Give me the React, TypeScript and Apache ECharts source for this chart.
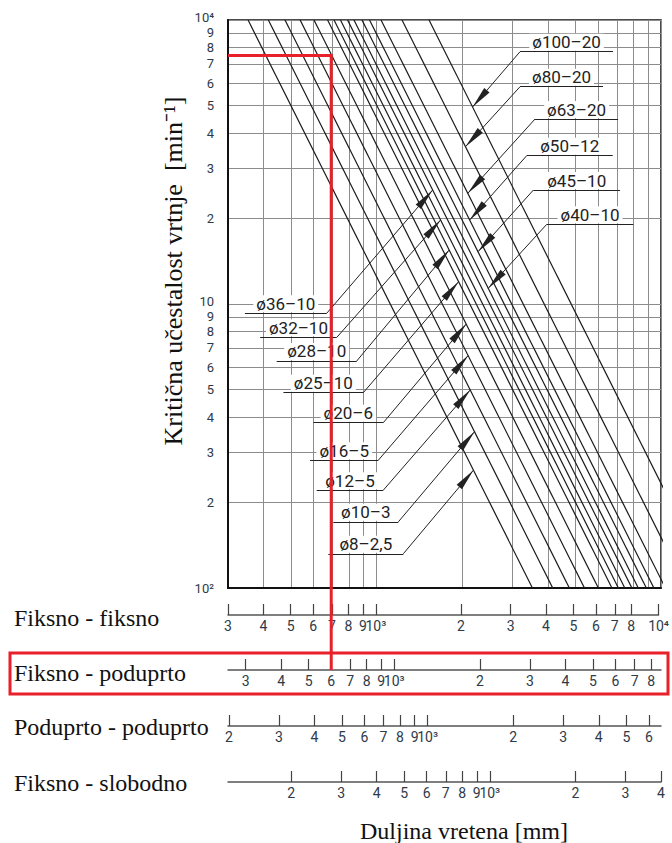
import React, { useEffect, useRef } from 'react';
import * as echarts from 'echarts';

// ---- data ----
const speedTicks = [100, 200, 300, 400, 500, 600, 700, 800, 900, 1000, 2000, 3000, 4000, 5000, 6000, 7000, 8000, 9000, 10000];
const speedTickLabels = ['10²', '2', '3', '4', '5', '6', '7', '8', '9', '10', '2', '3', '4', '5', '6', '7', '8', '9', '10⁴'];

const supportCases = ['Fiksno - fiksno', 'Fiksno - poduprto', 'Poduprto - poduprto', 'Fiksno - slobodno'];
const lengthFactor = [1, 0.867, 0.662, 0.4];

const ffTicks = [300, 400, 500, 600, 700, 800, 900, 1000, 2000, 3000, 4000, 5000, 6000, 7000, 8000, 9000, 10000];
const ffLabels = ['3', '4', '5', '6', '7', '8', '9', '10³', '2', '3', '4', '5', '6', '7', '8', '9', '10⁴'];
const fpTicks = [300, 400, 500, 600, 700, 800, 900, 1000, 2000, 3000, 4000, 5000, 6000, 7000, 8000];
const fpLabels = ['3', '4', '5', '6', '7', '8', '9', '10³', '2', '3', '4', '5', '6', '7', '8'];
const ppTicks = [200, 300, 400, 500, 600, 700, 800, 900, 1000, 2000, 3000, 4000, 5000, 6000];
const ppLabels = ['2', '3', '4', '5', '6', '7', '8', '9', '10³', '2', '3', '4', '5', '6'];
const fsTicks = [200, 300, 400, 500, 600, 700, 800, 900, 1000, 2000, 3000, 4000];
const fsLabels = ['2', '3', '4', '5', '6', '7', '8', '9', '10³', '2', '3', '4'];
const scaleTicks = [ffTicks, fpTicks, ppTicks, fsTicks];
const scaleLabels = [ffLabels, fpLabels, ppLabels, fsLabels];

// spindle sizes, from the lowest line to the highest
const spindleLabels = ['ø8–2,5', 'ø10–3', 'ø12–5', 'ø16–5', 'ø20–6', 'ø25–10', 'ø28–10', 'ø32–10', 'ø36–10', 'ø40–10', 'ø45–10', 'ø50–12', 'ø63–20', 'ø80–20', 'ø100–20'];
// length [mm] (fiksno - fiksno) at which the critical speed is 10^4 min^-1
const lengthAtTopSpeed = [353, 416, 476, 538, 602, 672, 708, 746, 790, 832, 888, 944, 1036, 1228, 1528];
// speed [min^-1] where each arrow meets its line
const arrowSpeed = [260, 355, 498, 658, 850, 1198, 1549, 1976, 2520, 1136, 1528, 1976, 2453, 3580, 4940];
// label underline: speed and length range [mm]
const labelSpeed = [132, 171, 221, 282, 382, 487, 630, 763, 927, 1908, 2520, 3329, 4481, 5822, 7735];
const labelFrom = [676, 704, 615, 583, 599, 470, 445, 389, 344, 3964, 3558, 3370, 3606, 3193, 3193];
const labelTo = [1241, 1192, 1055, 1014, 1055, 897, 851, 724, 667, 7995, 7177, 6764, 7063, 6253, 6783];
const labelSide = ['left', 'left', 'left', 'left', 'left', 'left', 'left', 'left', 'left', 'right', 'right', 'right', 'right', 'right', 'right'];

// worked example (red)
const exampleSpeed = 7500;
const exampleLength = 600; // on the Fiksno - poduprto scale

// ---- layout ----
const GRID_LEFT = 228;
const GRID_WIDTH = 433;
const MAIN_TOP = 20;
const MAIN_HEIGHT = 568;
const scaleAxisY = [615, 670, 726, 782];
const rowTextY = [618, 673, 727, 783];
const NUM_FONT = 'Roboto, "DejaVu Sans", sans-serif';
const SERIF = '"Liberation Serif", "Times New Roman", serif';
const NUM_COLOR = '#2e3a48';
const RED = '#e8202a';
const EPS = 1e-7;
const lg = Math.log10;
// decade labels drawn a little higher, clear of the crowded label below them
const raisedSpeedTicks = [1000, 10000];

function tickIndex(v: number, ticks: number[]) {
  for (let i = 0; i < ticks.length; i++) {
    if (Math.abs(lg(ticks[i]) - v) < 1e-5) return i;
  }
  return -1;
}

function labelFor(v: number, ticks: number[], labels: string[]) {
  const i = tickIndex(v, ticks);
  return i < 0 ? '' : labels[i];
}

function staticGraphics() {
  const g: any[] = [];
  supportCases.forEach((name, i) => {
    g.push({
      id: 'row' + i, type: 'text', x: 14, y: rowTextY[i], z: 50,
      style: { text: name, font: `24px ${SERIF}`, fill: '#111', verticalAlign: 'middle', align: 'left' },
    });
  });
  g.push({
    id: 'yname', type: 'text', x: 173, y: 271, rotation: Math.PI / 2, z: 50,
    style: { text: 'Kritična učestalost vrtnje  [min⁻¹]', font: `26px ${SERIF}`, fill: '#111', align: 'center', verticalAlign: 'middle' },
  });
  g.push({
    id: 'xname', type: 'text', x: 464, y: 831, z: 50,
    style: { text: 'Duljina vretena [mm]', font: `24px ${SERIF}`, fill: '#111', align: 'center', verticalAlign: 'middle' },
  });
  g.push({
    id: 'redbox', type: 'rect', z: 100,
    shape: { x: 10, y: 653, width: 658, height: 41 },
    style: { fill: 'none', stroke: RED, lineWidth: 3 },
  });
  return g;
}

function buildOption() {
  const mainX = {
    type: 'value', gridIndex: 0, position: 'bottom',
    min: lg(300) - EPS, max: lg(10000) + EPS,
    axisLine: { show: true, onZero: false, lineStyle: { color: '#111', width: 2 } },
    axisTick: { show: false, customValues: ffTicks.map(lg) },
    axisLabel: { show: false },
    splitLine: { show: true, lineStyle: { color: '#8c8c8c', width: 1 } },
  };
  const yLabelStyle = {
    margin: 14, showMinLabel: true, showMaxLabel: true,
    formatter: (v: number) => labelFor(v, speedTicks, speedTickLabels),
    color: NUM_COLOR, fontSize: 13, lineHeight: 11, fontFamily: NUM_FONT,
  };
  const mainY = {
    type: 'value', gridIndex: 0, position: 'left',
    min: 2 - EPS, max: 4 + EPS,
    axisLine: { show: true, onZero: false, lineStyle: { color: '#111', width: 2 } },
    axisTick: { show: false, customValues: speedTicks.map(lg) },
    axisLabel: {
      show: true, ...yLabelStyle,
      customValues: speedTicks.filter((t) => !raisedSpeedTicks.includes(t)).map(lg),
    },
    splitLine: { show: true, lineStyle: { color: '#8c8c8c', width: 1 } },
  };
  // same scale, carries only the decade labels (text centre ~3 px above the grid line)
  const decadeY = {
    type: 'value', gridIndex: 0, position: 'left', offset: 0,
    min: 2 - EPS, max: 4 + EPS,
    axisLine: { show: false }, axisTick: { show: false }, splitLine: { show: false },
    axisLabel: {
      show: true, ...yLabelStyle, lineHeight: 6, verticalAlign: 'bottom',
      customValues: raisedSpeedTicks.map(lg),
    },
  };
  const scaleX = lengthFactor.map((f, k) => ({
    type: 'value', gridIndex: k + 1, position: 'bottom',
    min: lg(300 * f) - EPS, max: lg(10000 * f) + EPS,
    axisLine: { show: true, onZero: false, lineStyle: { color: '#555', width: 1.5 } },
    axisTick: { show: true, inside: true, length: 11, customValues: scaleTicks[k].map(lg), lineStyle: { color: '#444', width: 1.2 } },
    axisLabel: {
      show: true, customValues: scaleTicks[k].map(lg), margin: 4,
      showMinLabel: true, showMaxLabel: true,
      formatter: (v: number) => labelFor(v, scaleTicks[k], scaleLabels[k]),
      color: NUM_COLOR, fontSize: 14, fontFamily: NUM_FONT,
    },
    splitLine: { show: false },
  }));
  const scaleY = lengthFactor.map((_, k) => ({
    type: 'value', gridIndex: k + 1, min: 0, max: 1, show: false,
  }));

  const series = spindleLabels.map((name, i) => {
    const L0 = lengthAtTopSpeed[i];
    const tipL = L0 * Math.sqrt(10000 / arrowSpeed[i]);
    const startL = labelSide[i] === 'left' ? labelTo[i] : labelFrom[i];
    return {
      type: 'line', name, xAxisIndex: 0, yAxisIndex: 0,
      data: [[lg(L0), 4], [lg(L0 * 10), 2]],
      symbol: 'none', showSymbol: false, clip: true, silent: true, z: 3,
      lineStyle: { color: '#1a1a1a', width: 1.2 },
      markLine: {
        silent: true, animation: false,
        symbol: ['none', 'triangle'],
        symbolSize: [7, 22],
        lineStyle: { type: 'solid', color: '#222', width: 1 },
        itemStyle: { color: '#111' },
        label: { show: false },
        emphasis: { disabled: true },
        data: [
          [
            { coord: [lg(startL), lg(labelSpeed[i])], symbol: 'none' },
            {
              coord: [lg(tipL), lg(arrowSpeed[i])],
              symbol: 'triangle', symbolSize: [7, 22], symbolOffset: [0, 11],
              itemStyle: { color: '#111' },
            },
          ],
          [
            {
              coord: [lg(labelFrom[i]), lg(labelSpeed[i])], symbol: 'none',
              label: {
                show: true, position: 'insideMiddleTop', distance: 1, formatter: name,
                color: '#222', fontSize: 17, fontFamily: NUM_FONT,
                backgroundColor: '#fff', padding: [0, 3],
              },
            },
            { coord: [lg(labelTo[i]), lg(labelSpeed[i])], symbol: 'none' },
          ],
        ],
      },
    };
  });

  return {
    animation: false,
    backgroundColor: '#fff',
    grid: [
      { left: GRID_LEFT, top: MAIN_TOP, width: GRID_WIDTH, height: MAIN_HEIGHT, show: true, borderColor: '#111', borderWidth: 1.5, backgroundColor: 'transparent' },
      ...scaleAxisY.map((y) => ({ left: GRID_LEFT, width: GRID_WIDTH, top: y - 10, height: 10, show: false })),
    ],
    xAxis: [mainX, ...scaleX],
    yAxis: [mainY, ...scaleY, decadeY],
    series,
    graphic: staticGraphics(),
  };
}

export default function App() {
  const ref = useRef<HTMLDivElement>(null);
  useEffect(() => {
    const chart = echarts.init(ref.current!, null, { renderer: 'svg' });
    chart.setOption(buildOption() as any);
    const xL = chart.convertToPixel({ xAxisIndex: 0 } as any, lg(300)) as any as number;
    const xR = chart.convertToPixel({ xAxisIndex: 2 } as any, lg(exampleLength)) as any as number;
    const yT = chart.convertToPixel({ yAxisIndex: 0 } as any, lg(exampleSpeed)) as any as number;
    const yB = chart.convertToPixel({ yAxisIndex: 2 } as any, 0) as any as number;
    chart.setOption({
      graphic: [
        ...staticGraphics(),
        {
          id: 'redline', type: 'polyline', z: 100,
          shape: { points: [[xL, yT], [xR, yT], [xR, yB]] },
          style: { fill: 'none', stroke: RED, lineWidth: 3 },
        },
      ],
    } as any);
    return () => chart.dispose();
  }, []);
  return <div ref={ref} style={{ position: 'absolute', left: 0, top: 0, width: 672, height: 843 }} />;
}
